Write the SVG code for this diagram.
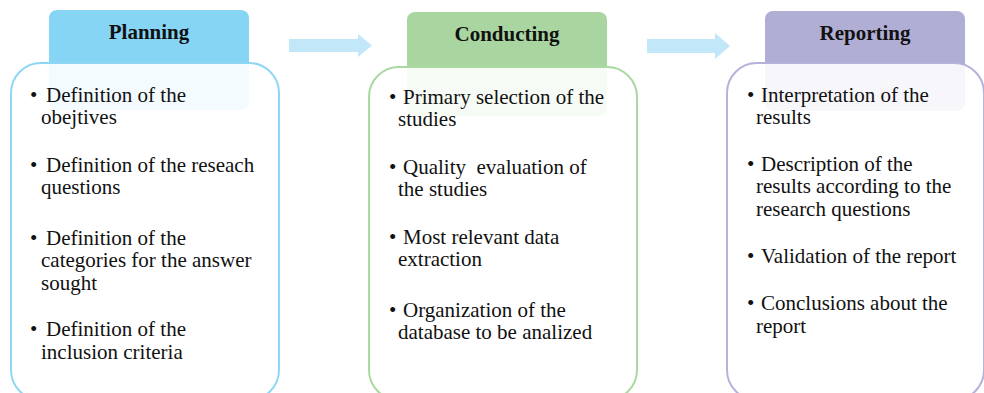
<svg xmlns="http://www.w3.org/2000/svg" width="984" height="393" viewBox="0 0 984 393">
  <style>
    .head { font-family: "Liberation Serif", "Times New Roman", serif; font-size: 21px; font-weight: bold; fill: #111; text-anchor: middle; }
    .item { font-family: "Liberation Serif", "Times New Roman", serif; font-size: 21px; fill: #111; white-space: pre; }
    .body { fill: #ffffff; fill-opacity: 0.9; stroke-width: 2; }
    .arrow { fill: #c2e7f8; }
  </style>
  <rect width="984" height="393" fill="#ffffff"/>

  <!-- flow arrows between phases -->
  <g id="connectors">
    <polygon class="arrow" points="289,39 358,39 358,34 372,45.5 358,57 358,52 289,52"/>
    <polygon class="arrow" points="647,39 715,39 715,33 730,46 715,59 715,53 647,53"/>
  </g>

  <!-- Planning phase -->
  <g id="planning">
    <rect x="49" y="10" width="200" height="100" rx="8" fill="#87d5f5"/>
    <rect class="body" x="11" y="63" width="268" height="337" rx="30" stroke="#8fd6f5"/>
    <text class="head" x="149" y="39">Planning</text>
    <text class="item">
      <tspan x="30" y="102">•</tspan><tspan x="46" y="102">Definition of the</tspan>
      <tspan x="41" y="124">obejtives</tspan>
      <tspan x="30" y="172">•</tspan><tspan x="46" y="172">Definition of the reseach</tspan>
      <tspan x="41" y="194">questions</tspan>
      <tspan x="30" y="245">•</tspan><tspan x="46" y="245">Definition of the</tspan>
      <tspan x="41" y="267">categories for the answer</tspan>
      <tspan x="41" y="290">sought</tspan>
      <tspan x="30" y="336">•</tspan><tspan x="46" y="336">Definition of the</tspan>
      <tspan x="41" y="359">inclusion criteria</tspan>
    </text>
  </g>

  <!-- Conducting phase -->
  <g id="conducting">
    <rect x="407" y="12" width="200" height="104" rx="8" fill="#a9d5a0"/>
    <rect class="body" x="369" y="67" width="268" height="333" rx="30" stroke="#a9d9a0"/>
    <text class="head" x="507" y="41">Conducting</text>
    <text class="item">
      <tspan x="389" y="104">•</tspan><tspan x="403" y="104">Primary selection of the</tspan>
      <tspan x="398" y="126">studies</tspan>
      <tspan x="389" y="174">•</tspan><tspan x="403" y="174">Quality  evaluation of</tspan>
      <tspan x="398" y="196">the studies</tspan>
      <tspan x="389" y="244">•</tspan><tspan x="403" y="244">Most relevant data</tspan>
      <tspan x="398" y="266">extraction</tspan>
      <tspan x="389" y="317">•</tspan><tspan x="403" y="317">Organization of the</tspan>
      <tspan x="398" y="339">database to be analized</tspan>
    </text>
  </g>

  <!-- Reporting phase -->
  <g id="reporting">
    <rect x="765" y="11" width="200" height="100" rx="8" fill="#b1aed6"/>
    <rect class="body" x="727" y="63" width="257" height="337" rx="30" stroke="#b5b2dc"/>
    <text class="head" x="865" y="40">Reporting</text>
    <text class="item">
      <tspan x="747" y="102">•</tspan><tspan x="761" y="102">Interpretation of the</tspan>
      <tspan x="756" y="124">results</tspan>
      <tspan x="747" y="171">•</tspan><tspan x="761" y="171">Description of the</tspan>
      <tspan x="756" y="193">results according to the</tspan>
      <tspan x="756" y="216">research questions</tspan>
      <tspan x="747" y="263">•</tspan><tspan x="761" y="263">Validation of the report</tspan>
      <tspan x="747" y="310">•</tspan><tspan x="761" y="310">Conclusions about the</tspan>
      <tspan x="756" y="333">report</tspan>
    </text>
  </g>
</svg>
